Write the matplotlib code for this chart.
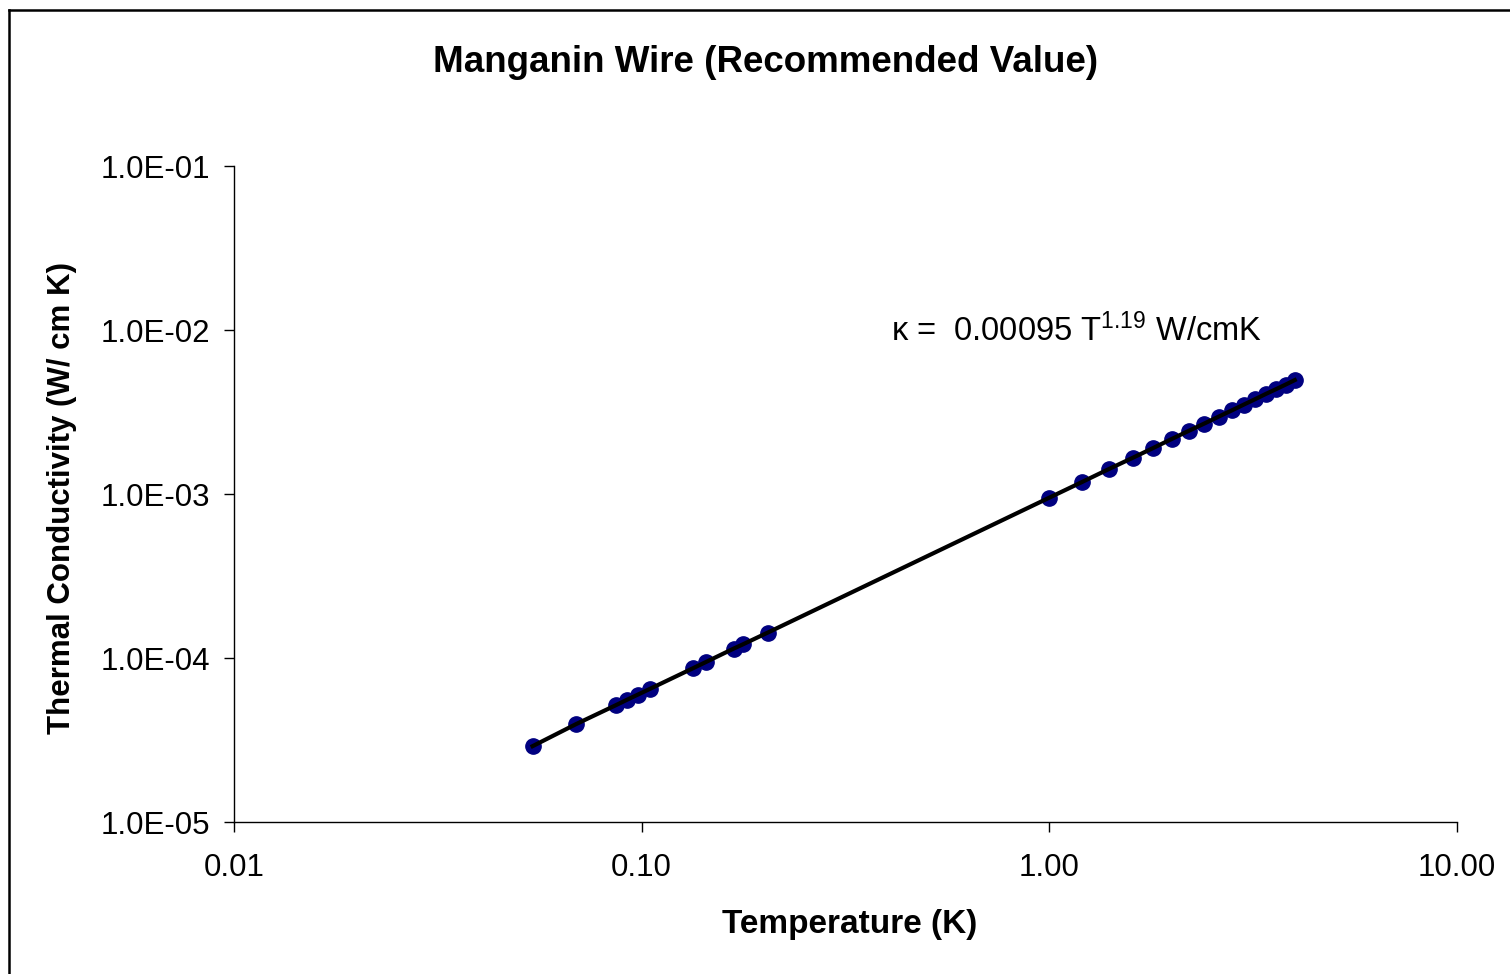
import matplotlib
matplotlib.use("Agg")
import matplotlib.pyplot as plt
from matplotlib.lines import Line2D
from matplotlib.ticker import NullLocator

# ---- data ----
temperature_K = [0.054, 0.069, 0.0865, 0.092, 0.098, 0.105, 0.134, 0.144, 0.168, 0.177, 0.204,
                 1.0, 1.2, 1.4, 1.6, 1.8, 2.0, 2.2, 2.4, 2.6, 2.8, 3.0, 3.2, 3.4, 3.6, 3.8, 4.0]
conductivity = [2.9e-5, 3.95e-5, 5.16e-5, 5.56e-5, 5.99e-5, 6.50e-5, 8.69e-5, 9.47e-5, 1.14e-4, 1.21e-4, 1.43e-4,
                9.5e-4, 1.18e-3, 1.42e-3, 1.66e-3, 1.91e-3, 2.17e-3, 2.43e-3, 2.69e-3, 2.96e-3, 3.23e-3,
                3.51e-3, 3.79e-3, 4.08e-3, 4.36e-3, 4.65e-3, 4.95e-3]

x_ticks = [0.01, 0.1, 1, 10]
x_tick_labels = ["0.01", "0.10", "1.00", "10.00"]
y_ticks = [1e-5, 1e-4, 1e-3, 1e-2, 1e-1]
y_tick_labels = ["1.0E-05", "1.0E-04", "1.0E-03", "1.0E-02", "1.0E-01"]

title = "Manganin Wire (Recommended Value)"
x_label = "Temperature (K)"
y_label = "Thermal Conductivity (W/ cm K)"
annotation = r"κ =  0.00095 T$^{1.19}$ W/cmK"

# ---- styling ----
plt.rcParams['font.family'] = ['Liberation Sans', 'DejaVu Sans']
plt.rcParams['mathtext.fontset'] = 'custom'
plt.rcParams['mathtext.rm'] = 'Liberation Sans'
plt.rcParams['mathtext.it'] = 'Liberation Sans'

fig = plt.figure(figsize=(15.10, 9.74), dpi=100)
ax = fig.add_axes([234/1510, 1 - 822/974, (1457 - 234)/1510, (822 - 166)/974])

ax.plot(temperature_K, conductivity, linestyle='none', marker='o', markersize=11,
        color='#000080', zorder=2)
ax.plot(temperature_K, conductivity, color='black', linewidth=3, zorder=3)

ax.set_xscale('log')
ax.set_yscale('log')
ax.set_xlim(0.01, 10)
ax.set_ylim(1e-5, 1e-1)
ax.set_xticks(x_ticks)
ax.set_xticklabels(x_tick_labels)
ax.set_yticks(y_ticks)
ax.set_yticklabels(y_tick_labels)
ax.xaxis.set_minor_locator(NullLocator())
ax.yaxis.set_minor_locator(NullLocator())

for s in ['top', 'right']:
    ax.spines[s].set_visible(False)
for s in ['left', 'bottom']:
    ax.spines[s].set_linewidth(1.0)

ax.tick_params(axis='both', which='major', direction='out', length=7, width=1.0,
               labelsize=22.5, colors='black')
ax.tick_params(axis='y', pad=10)
ax.tick_params(axis='x', pad=15)

fig.text(766/1510, 1 - 63/974, title, ha='center', va='center', fontsize=26.5, fontweight='bold')
fig.text(850/1510, 1 - 924/974, x_label, ha='center', va='center', fontsize=24, fontweight='bold')
fig.text(62/1510, 1 - 498/974, y_label, ha='center', va='center', fontsize=22.5,
         fontweight='bold', rotation=90)

ax.text(891/1510, 1 - 331/974, annotation, transform=fig.transFigure, ha='left', va='center',
        fontsize=23.5)

# outer chart border (left and top visible)
fig.add_artist(Line2D([9/1510, 9/1510], [0, 1 - 10/974], transform=fig.transFigure,
                      color='black', linewidth=1.8))
fig.add_artist(Line2D([9/1510, 1], [1 - 10/974, 1 - 10/974], transform=fig.transFigure,
                      color='black', linewidth=1.8))

fig.savefig("out.png", dpi=100)
